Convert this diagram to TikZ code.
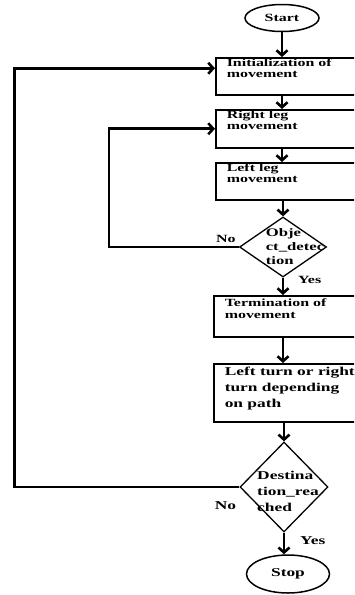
\documentclass[tikz,border=0pt]{standalone}
\usepackage{fontspec}
\setmainfont{Liberation Serif}[FakeStretch=1.45]
\usepackage{tikz}
\usetikzlibrary{arrows.meta,positioning,shapes.geometric}
\newcommand{\boxfont}{\fontsize{11}{11.5}\selectfont\bfseries}
\newcommand{\turnfont}{\fontsize{12}{16}\selectfont\bfseries}
\newcommand{\diafont}{\fontsize{11.5}{14}\selectfont\bfseries}
\newcommand{\toptext}[2]{\parbox[t][#1][t]{140pt}{\raggedright #2}}

\begin{document}
\begin{tikzpicture}[
  x=1pt, y=-1pt,
  box/.style={draw, line width=1.5pt, anchor=north west, inner xsep=11pt, inner ysep=1pt, font=\boxfont},
  terminal/.style={draw, ellipse, line width=1.5pt, inner sep=0pt, font=\boxfont},
  decision/.style={draw, diamond, line width=1.3pt, inner sep=0pt},
  lbl/.style={inner sep=0pt, font=\boxfont},
  arrow/.style={-{Straight Barb[length=5pt,width=11pt]}, line width=2.6pt}
]
\path[use as bounding box, clip] (0,0) rectangle (354,595);

\node[terminal, minimum width=74pt, minimum height=27pt] (start) at (282,18) {Start};
\node[box] (init) at (215,57) {\toptext{35pt}{Initialization of\\movement}};
\node[box] (rleg) at (215,109) {\toptext{36pt}{Right leg\\movement}};
\node[box] (lleg) at (215,162) {\toptext{35pt}{Left leg\\movement}};
\node[decision, minimum width=87pt, minimum height=60pt] (obj) at (283,247) {};
\node[lbl, align=left, font=\diafont] (objtxt) at ([xshift=12pt]obj.center) {Obje\\ct\_detec\\tion};
\node[box, inner ysep=3pt] (term) at (213,295) {\toptext{35pt}{Termination of\\movement}};
\node[box, inner ysep=3pt, font=\turnfont] (turn) at (213,363) {\toptext{52pt}{Left turn or right\\turn depending\\on path}};
\node[decision, minimum width=88pt, minimum height=90pt] (dest) at (284,487) {};
\node[lbl, align=left, font=\turnfont] (desttxt) at ([xshift=4pt,yshift=-4pt]dest.center) {Destina\\tion\_rea\\ched};
\node[terminal, minimum width=83pt, minimum height=38pt, font=\turnfont] (stop) at (288,574) {Stop};

\draw[arrow] (start) -- (start |- init.north);
\draw[arrow] (init.south -| start) -- (rleg.north -| start);
\draw[arrow] (rleg.south -| start) -- (lleg.north -| start);
\draw[arrow] (lleg.south -| obj) -- (obj);
\draw[arrow] (obj) -- (obj |- term.north);
\draw[arrow] (term.south -| obj) -- (turn.north -| obj);
\draw[arrow] (turn.south -| dest) -- (dest);
\draw[arrow] (dest) -- (dest |- stop.north);

% loops back
\draw[arrow] (obj.west) -- ++(-130,0) |- (rleg.west);
\draw[arrow] (dest.west) -- ++(-225,0) |- ([yshift=8pt]init.west);

\node[lbl, above left=4pt and 3pt of obj.west] (no1) {No};
\node[lbl, anchor=west] (yes1) at ([xshift=15pt,yshift=-2pt]obj.south) {Yes};
\node[lbl, font=\turnfont, anchor=north east] (no2) at ([xshift=-3pt,yshift=-14pt]dest.west) {No};
\node[lbl, font=\turnfont, anchor=west] (yes2) at ([xshift=16pt,yshift=-8pt]dest.south) {Yes};
\end{tikzpicture}
\end{document}
